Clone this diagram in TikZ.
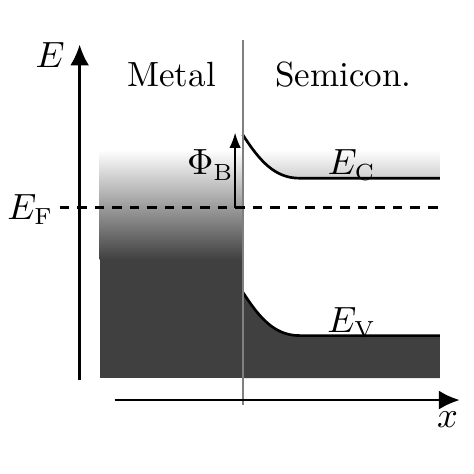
\documentclass[tikz,border=0pt]{standalone}
\usetikzlibrary{arrows.meta}
\begin{document}
\begin{tikzpicture}[x=1mm, y=1mm, every node/.style={font=\fontsize{10.5}{12}\selectfont}]
\useasboundingbox (0,0) rectangle (50,50);
\tikzset{band/.style={thick, black}, darkfill/.style={fill=black!75}}
% metal side
\path[darkfill] (10.5,10.1) rectangle (25.6,22.8);
\shade[top color=white, bottom color=black!75] (10.5,22.6) rectangle (25.6,34.2);
% semiconductor side
\path (25.6,35.8) coordinate (cb0) (31.6,31.2) coordinate (cb1) (46.4,31.2) coordinate (cb2);
\path (25.6,19.2) coordinate (vb0) (31.6,14.6) coordinate (vb1) (46.4,14.6) coordinate (vb2);
\begin{scope}
\clip (cb0) .. controls (27.4,33.0) and (29.0,31.2) .. (cb1) -- (cb2) -- (46.4,45.8) -- (25.6,45.8) -- cycle;
\shade[top color=white, bottom color=black!75] (25.6,22.6) rectangle (46.4,34.2);
\end{scope}
\path[darkfill] (vb0) .. controls (27.4,16.4) and (29.0,14.6) .. (vb1) -- (vb2) -- (46.4,10.1) -- (25.6,10.1) -- cycle;
\draw[band] (cb0) .. controls (27.4,33.0) and (29.0,31.2) .. (cb1) -- (cb2);
\draw[band] (vb0) .. controls (27.4,16.4) and (29.0,14.6) .. (vb1) -- (vb2);
\node (ec) at (37.1,32.6) {$E_\mathrm{C}$};
\node (ev) at (37.1,16.0) {$E_\mathrm{V}$};
% interface
\path (25.6,45.8) coordinate (itop) (25.6,7.3) coordinate (ibot);
\draw[black!50, line width=0.6pt] (itop) -- (ibot);
% Fermi level
\path (6.3,28.1) coordinate (efl) (46.9,28.1) coordinate (efr);
\draw[thick, dash pattern=on 1mm off 0.85mm] (efl) -- (efr);
\node (ef) at (3.2,27.9) {$E_\mathrm{F}$};
% barrier
\path (24.8,28.1) coordinate (phib) (24.8,36.0) coordinate (phit);
\draw[-{Latex[length=1.6mm,width=1.2mm]}] (phib) -- (phit);
\node (phi) at (22.2,32.6) {$\Phi_\mathrm{B}$};
% axes
\path (8.4,9.9) coordinate (eorig) (8.4,45.3) coordinate (etop);
\path (12.1,7.8) coordinate (xorig) (48.5,7.8) coordinate (xend);
\draw[thick, -{Latex[length=2.2mm,width=2mm]}] (eorig) -- (etop);
\draw[thick, -{Latex[length=2.2mm,width=2mm]}] (xorig) -- (xend);
\node (elab) at (5.3,44.2) {$E$};
\node (xlab) at (47.2,5.7) {$x$};
\node (metal) at (18.1,42.1) {Metal};
\node (semi) at (36.2,42.1) {Semicon.};
\end{tikzpicture}
\end{document}
